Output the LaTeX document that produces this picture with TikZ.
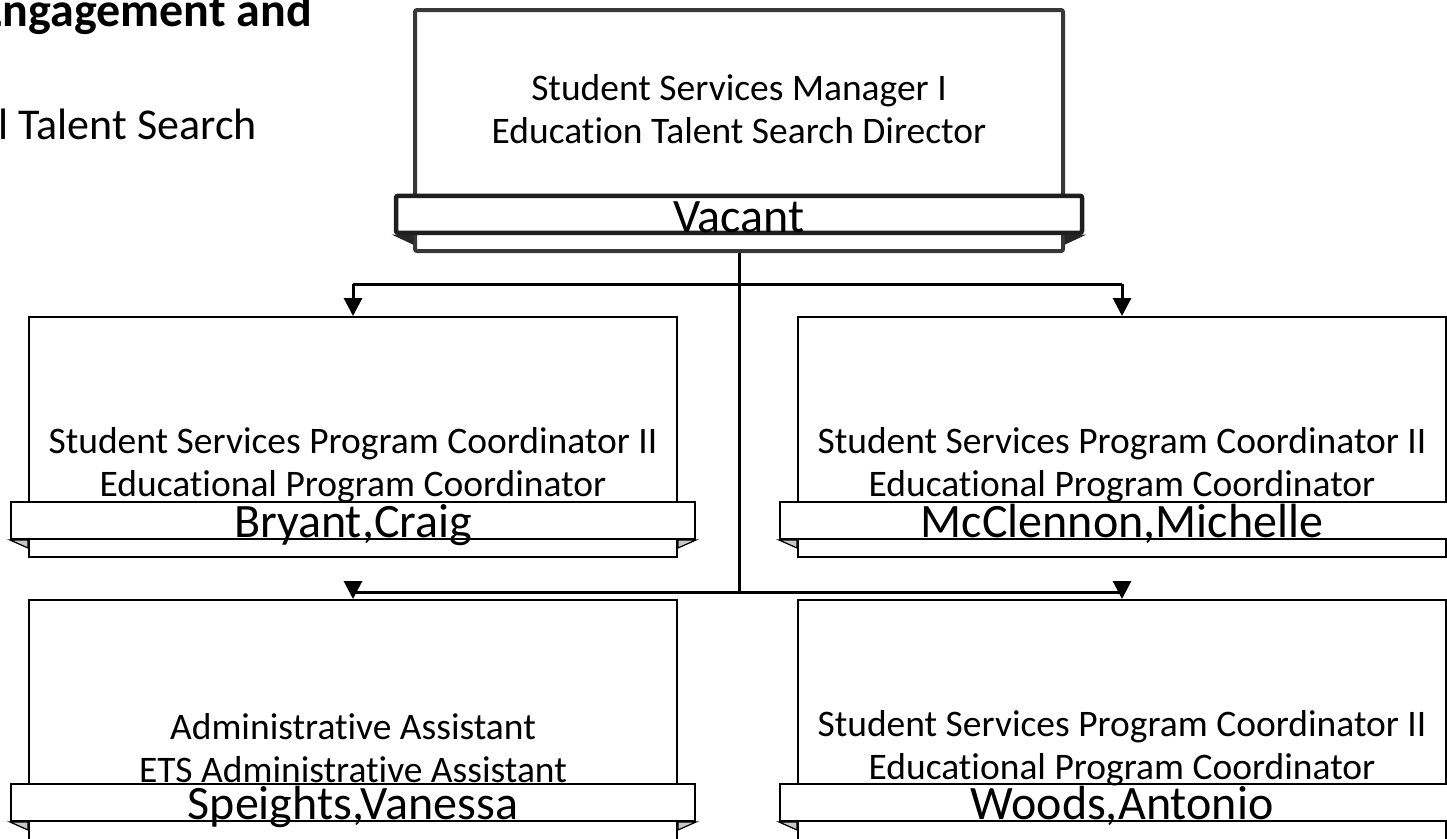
\documentclass[tikz,border=0pt]{standalone}
\usepackage{fontspec}
\setmainfont[Ligatures=NoCommon]{Carlito}
\usetikzlibrary{arrows.meta,calc}
\begin{document}
\begin{tikzpicture}[x=1pt,y=-1pt,
  unitbox/.style={draw=black,line width=2pt,fill=white,rectangle,inner sep=0pt,minimum width=648pt,minimum height=240pt,anchor=north west},
  topbox/.style={draw=black!78,line width=4pt,fill=white,rectangle,rounded corners=2pt,inner sep=0pt,minimum width=648pt,minimum height=241pt,anchor=north west},
  namebar/.style={draw=black,line width=2pt,fill=white,rectangle,inner sep=0pt,minimum width=684pt,minimum height=37pt,anchor=south},
  topbar/.style={draw=black!88,line width=4.5pt,fill=white,rectangle,rounded corners=2pt,inner sep=0pt,minimum width=686pt,minimum height=37pt,anchor=south},
  roletext/.style={align=center,font=\fontsize{37.5}{43}\selectfont,inner sep=0pt},
  nametext/.style={font=\fontsize{48}{50}\selectfont,inner sep=0pt,anchor=base},
  titletext/.style={inner sep=0pt,anchor=base east},
  fold/.style={fill=black!22,draw=black,line width=1.2pt,line join=miter},
  topfold/.style={fill=black!85,draw=black!85,line width=1pt},
  conn/.style={draw=black,line width=3pt},
  arr/.style={draw=black,line width=3pt,-{Triangle[width=18pt,length=18pt]}}
]
\useasboundingbox (0,0) rectangle (1447,838);
\clip (0,0) rectangle (1447,838);

% title texts (cut by the page edge)
\node[titletext,font=\fontsize{48}{52}\selectfont\bfseries] (title1) at (312,26) {Engagement and};
\node[titletext,font=\fontsize{44}{48}\selectfont] (title2) at (257,139) {al Talent Search};

% top unit
\node[topbox] (T) at (413,8) {};
\node[topbar] (Tb) at ($(T.south)+(0,-18)$) {};
\fill[topfold] (Tb.south west) -- (Tb.south west -| T.west) -- ++(0,9) -- cycle;
\fill[topfold] (Tb.south east) -- (Tb.south east -| T.east) -- ++(0,9) -- cycle;
\node[roletext] (Tt) at ($(T.north)+(0,101)$) {Student Services Manager I\\Education Talent Search Director};
\node[nametext] (Tn) at ($(Tb.south)+(0,-3)$) {Vacant};

% left middle unit
\node[unitbox] (L) at (28,316) {};
\node[namebar] (Lb) at ($(L.south)+(0,-18)$) {};
\filldraw[fold] (Lb.south west) -- (Lb.south west -| L.west) -- ++(0,8) -- cycle;
\filldraw[fold] (Lb.south east) -- (Lb.south east -| L.east) -- ++(0,8) -- cycle;
\node[roletext] (Lt) at ($(L.north)+(0,149)$) {Student Services Program Coordinator II\\Educational Program Coordinator};
\node[nametext] (Ln) at ($(Lb.south)+(0,-3)$) {Bryant,Craig};

% right middle unit
\node[unitbox] (R) at (797,316) {};
\node[namebar] (Rb) at ($(R.south)+(0,-18)$) {};
\filldraw[fold] (Rb.south west) -- (Rb.south west -| R.west) -- ++(0,8) -- cycle;
\filldraw[fold] (Rb.south east) -- (Rb.south east -| R.east) -- ++(0,8) -- cycle;
\node[roletext] (Rt) at ($(R.north)+(0,149)$) {Student Services Program Coordinator II\\Educational Program Coordinator};
\node[nametext] (Rn) at ($(Rb.south)+(0,-3)$) {McClennon,Michelle};

% bottom left unit
\node[unitbox] (BL) at (28,599) {};
\node[namebar] (BLb) at ($(BL.south)+(0,-19)$) {};
\filldraw[fold] (BLb.south west) -- (BLb.south west -| BL.west) -- ++(0,8) -- cycle;
\filldraw[fold] (BLb.south east) -- (BLb.south east -| BL.east) -- ++(0,8) -- cycle;
\node[roletext] (BLt) at ($(BL.north)+(0,149)$) {Administrative Assistant\\ETS Administrative Assistant};
\node[nametext] (BLn) at ($(BLb.south)+(0,-3)$) {Speights,Vanessa};

% bottom right unit
\node[unitbox] (BR) at (797,599) {};
\node[namebar] (BRb) at ($(BR.south)+(0,-19)$) {};
\filldraw[fold] (BRb.south west) -- (BRb.south west -| BR.west) -- ++(0,8) -- cycle;
\filldraw[fold] (BRb.south east) -- (BRb.south east -| BR.east) -- ++(0,8) -- cycle;
\node[roletext] (BRt) at ($(BR.north)+(0,149)$) {Student Services Program Coordinator II\\Educational Program Coordinator};
\node[nametext] (BRn) at ($(BRb.south)+(0,-3)$) {Woods,Antonio};

% connectors
\coordinate (j1) at ($(T.south)+(0,31)$);
\coordinate (j2) at ($(T.south)+(0,339)$);
\coordinate (aL) at ($(BL.north)+(0,-18)$);
\coordinate (aR) at ($(BR.north)+(0,-18)$);
\draw[conn] (T.south) -- (j2);
\draw[conn] (j1 -| L.north) -- (j1 -| R.north);
\draw[arr] (j1 -| L.north) -- (L.north);
\draw[arr] (j1 -| R.north) -- (R.north);
\draw[conn] (j2 -| BL.north) -- (j2 -| BR.north);
\draw[arr] (aL) -- (BL.north);
\draw[arr] (aR) -- (BR.north);
\end{tikzpicture}
\end{document}
